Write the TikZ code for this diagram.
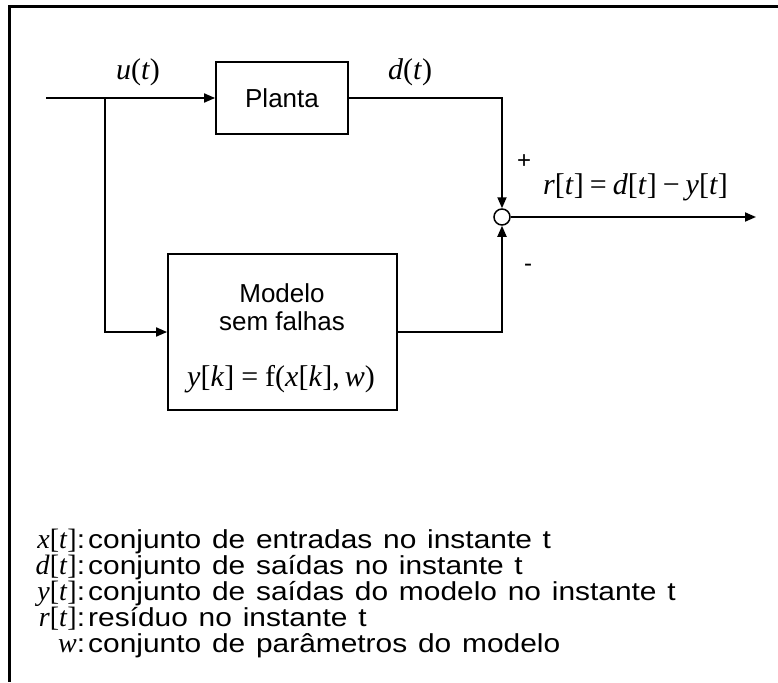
\documentclass[tikz,border=0pt]{standalone}
\usepackage{fontspec}
\setmainfont{Liberation Sans}
\newfontfamily\mf{Liberation Serif}
\newfontfamily\legf[FakeStretch=1.15,WordSpace=1.3]{Liberation Sans}
\usetikzlibrary{arrows.meta}
\newcommand\iv[1]{\textit{#1}}
\begin{document}
\begin{tikzpicture}[x=1pt,y=-1pt,
  conn/.style={line width=1.8pt},
  arr/.style={conn,-{Triangle[length=11pt,width=9pt]}},
  blk/.style={draw,line width=1.8pt,inner sep=0pt,font=\fontsize{26}{28}\selectfont},
  sig/.style={inner sep=0pt,font=\mf\fontsize{30}{32}\selectfont},
  eq/.style={inner sep=0pt,anchor=base,font=\mf\fontsize{30}{32}\selectfont},
  sgn/.style={inner sep=0pt,font=\fontsize{24}{26}\selectfont},
  lm/.style={inner sep=0pt,anchor=base east,font=\mf\fontsize{28}{30}\selectfont},
  lc/.style={inner sep=0pt,anchor=base,font=\legf\fontsize{26}{28}\selectfont},
  lt/.style={inner sep=0pt,anchor=base west,font=\legf\fontsize{26}{28}\selectfont}]
\useasboundingbox (0,0) rectangle (778,682);
\draw[line width=3pt] (778,6.5) -- (9.5,6.5) -- (9.5,682);
% blocks
\node[blk,minimum width=132pt,minimum height=72pt] (planta) at (282,98) {Planta};
\node[blk,minimum width=229pt,minimum height=156pt] (modelo) at (282.5,332) {};
\node[inner sep=0pt,anchor=base,font=\fontsize{26}{28}\selectfont] (m1) at (282,302) {Modelo};
\node[inner sep=0pt,anchor=base,font=\fontsize{26}{28}\selectfont] (m2) at (282,330) {sem falhas};
\node[eq] (m3) at (281,386) {\iv{y}[\iv{k}]\hspace{7pt}=\hspace{7pt}f(\iv{x}[\iv{k}],\hspace{5pt}\iv{w})};
\node[draw,circle,line width=1.5pt,minimum size=16pt,inner sep=0pt] (sum) at (502,217) {};
% connectors
\coordinate (in) at (46,98);
\coordinate (br) at (105,98);
\coordinate (out) at (756,217);
\draw[arr] (in) -- (planta.west);
\draw[arr] (br) |- (modelo.west);
\draw[arr] (planta.east) -| (sum.north);
\draw[arr] (modelo.east) -| (sum.south);
\draw[arr] (sum.east) -- (out);
% labels
\node[sig] (u) at (138,72) {\iv{u}(\iv{t})};
\node[sig] (d) at (410,72) {\iv{d}(\iv{t})};
\node[sgn] (plus) at (524,162) {+};
\node[sgn] (minus) at (528,268) {-};
\node[eq,anchor=base west] (req) at (543,194) {\iv{r}[\iv{t}]\hspace{6pt}=\hspace{6pt}\iv{d}[\iv{t}]\hspace{6pt}−\hspace{6pt}\iv{y}[\iv{t}]};
% legend
\node[lm] (l1m) at (77,548) {\iv{x}[\iv{t}]};
\node[lc] (l1c) at (81,548) {:};
\node[lt] (l1t) at (88,548) {conjunto de entradas no instante t};
\node[lm] (l2m) at (77,574) {\iv{d}[\iv{t}]};
\node[lc] (l2c) at (81,574) {:};
\node[lt] (l2t) at (88,574) {conjunto de saídas no instante t};
\node[lm] (l3m) at (77,600) {\iv{y}[\iv{t}]};
\node[lc] (l3c) at (81,600) {:};
\node[lt] (l3t) at (88,600) {conjunto de saídas do modelo no instante t};
\node[lm] (l4m) at (77,626) {\iv{r}[\iv{t}]};
\node[lc] (l4c) at (81,626) {:};
\node[lt] (l4t) at (88,626) {resíduo no instante t};
\node[lm] (l5m) at (77,652) {\iv{w}};
\node[lc] (l5c) at (81,652) {:};
\node[lt] (l5t) at (88,652) {conjunto de parâmetros do modelo};
\end{tikzpicture}
\end{document}
